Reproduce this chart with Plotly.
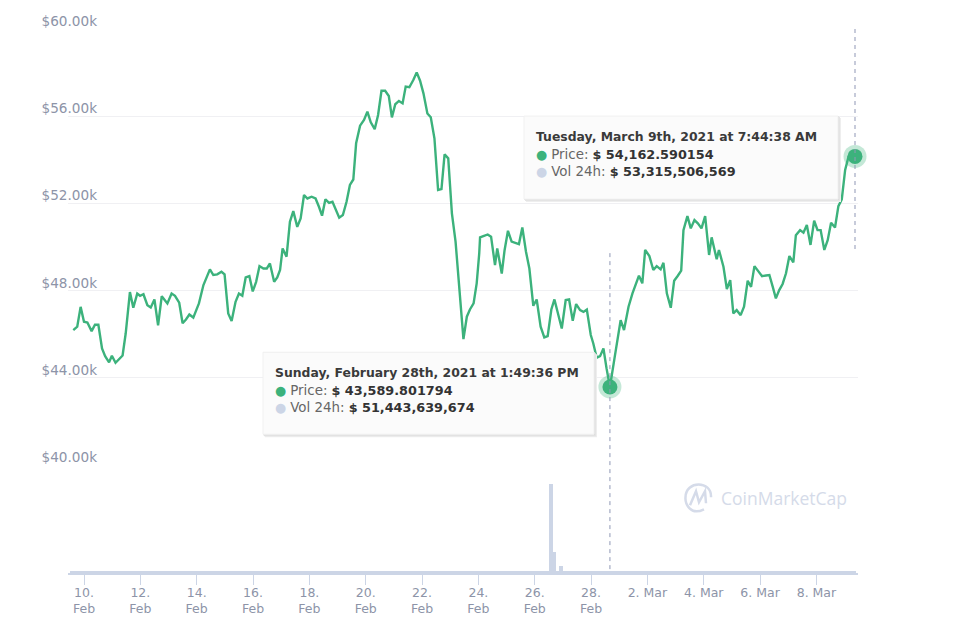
#!/usr/bin/env python3
# Bitcoin price / 24h volume chart, 30 days
import pandas as pd
import plotly.graph_objects as go

# -------------------------------------------------------------------------- #
# DATA  (days counted from 10 Feb 2021, price in thousands of dollars)
# -------------------------------------------------------------------------- #
price_days = [
    -0.38, -0.24, -0.12, 0.00, 0.12, 0.27, 0.39, 0.51, 0.64, 0.75, 0.89, 0.99, 1.12, 1.25, 1.37, 1.48,
    1.63, 1.75, 1.89, 1.99, 2.11, 2.25, 2.37, 2.50, 2.63, 2.76, 2.86, 2.96, 3.11, 3.23, 3.38, 3.50,
    3.62, 3.74, 3.88, 3.98, 4.08, 4.24, 4.36, 4.47, 4.59, 4.73, 4.88, 4.99, 5.12, 5.24, 5.38, 5.50,
    5.62, 5.74, 5.87, 5.99, 6.11, 6.23, 6.37, 6.49, 6.60, 6.75, 6.86, 6.96, 7.05, 7.19, 7.31, 7.43,
    7.57, 7.69, 7.81, 7.93, 8.08, 8.22, 8.34, 8.45, 8.57, 8.70, 8.82, 8.93, 9.06, 9.19, 9.32, 9.44,
    9.56, 9.66, 9.80, 9.94, 10.06, 10.18, 10.32, 10.44, 10.56, 10.69, 10.82, 10.93, 11.05, 11.18, 11.31, 11.42,
    11.55, 11.69, 11.81, 11.93, 12.05, 12.19, 12.31, 12.44, 12.57, 12.69, 12.80, 12.93, 13.06, 13.19, 13.30, 13.47,
    13.59, 13.70, 13.83, 13.94, 14.03, 14.06, 14.20, 14.33, 14.45, 14.59, 14.67, 14.83, 14.93, 15.05, 15.18, 15.32,
    15.44, 15.56, 15.69, 15.81, 15.95, 16.07, 16.21, 16.34, 16.46, 16.59, 16.70, 16.83, 16.96, 17.10, 17.22, 17.35,
    17.47, 17.61, 17.73, 17.85, 17.99, 18.08, 18.20, 18.32, 18.44, 18.55, 18.67, 18.85, 19.05, 19.17, 19.33, 19.47,
    19.60, 19.70, 19.82, 19.92, 20.07, 20.21, 20.33, 20.47, 20.57, 20.69, 20.83, 20.95, 21.08, 21.20, 21.28, 21.42,
    21.54, 21.67, 21.79, 21.92, 22.05, 22.19, 22.28, 22.46, 22.54, 22.70, 22.82, 22.94, 23.05, 23.17, 23.31, 23.43,
    23.56, 23.68, 23.80, 23.94, 24.07, 24.21, 24.33, 24.45, 24.56, 24.68, 24.80, 24.92, 25.04, 25.18, 25.27, 25.42,
    25.54, 25.66, 25.79, 25.92, 26.04, 26.15, 26.28, 26.40, 26.52, 26.66, 26.78, 26.90, 27.02, 27.14, 27.37,
]
prices = [
    46.19, 46.35, 47.26, 46.58, 46.54, 46.15, 46.44, 46.44, 45.35, 45.00, 44.72, 45.02, 44.70, 44.85, 45.03, 46.04,
    47.94, 47.22, 47.87, 47.77, 47.84, 47.34, 47.23, 47.60, 46.41, 47.75, 47.58, 47.42, 47.87, 47.77, 47.45, 46.51,
    46.68, 46.91, 46.77, 47.06, 47.42, 48.26, 48.61, 48.98, 48.72, 48.75, 48.87, 48.75, 46.96, 46.61, 47.49, 47.87,
    47.77, 48.61, 48.67, 47.97, 48.41, 49.13, 49.02, 49.02, 49.25, 48.41, 48.61, 48.95, 49.94, 49.56, 51.16, 51.65,
    50.93, 51.31, 52.39, 52.23, 52.31, 52.23, 51.85, 51.44, 52.19, 52.03, 52.08, 51.73, 51.35, 51.47, 52.08, 52.85,
    53.10, 54.76, 55.57, 55.83, 56.21, 55.72, 55.41, 56.06, 57.17, 57.17, 56.93, 55.95, 56.55, 56.70, 56.59, 57.36,
    57.33, 57.66, 58.01, 57.63, 57.05, 56.13, 55.95, 54.99, 52.62, 52.66, 54.25, 54.07, 51.55, 50.25, 48.64, 45.78,
    46.81, 47.14, 47.42, 48.34, 49.71, 50.45, 50.52, 50.58, 50.48, 49.18, 49.94, 48.79, 49.86, 50.75, 50.25, 50.20,
    50.14, 50.90, 49.79, 49.02, 47.31, 47.60, 46.35, 45.86, 45.92, 47.14, 47.60, 46.93, 46.27, 47.57, 47.60, 46.62,
    47.39, 47.11, 47.03, 47.14, 45.97, 45.58, 44.93, 45.00, 45.35, 44.44, 43.59, 45.05, 46.65, 46.20, 47.27, 47.88,
    48.34, 48.69, 48.34, 49.87, 49.59, 48.95, 49.13, 48.98, 49.28, 47.88, 47.22, 48.46, 48.69, 48.92, 50.78, 51.42,
    50.86, 51.24, 51.09, 50.86, 51.42, 49.64, 50.45, 49.44, 49.87, 49.10, 48.08, 48.49, 46.96, 47.11, 46.88, 47.27,
    48.46, 48.18, 49.13, 48.87, 48.67, 48.70, 48.72, 48.18, 47.65, 48.03, 48.31, 48.80, 49.59, 49.30, 50.55, 50.78,
    50.66, 51.01, 50.10, 51.21, 50.78, 50.78, 49.87, 50.32, 51.12, 50.90, 51.88, 52.19, 53.54, 54.15, 54.16,
]

# 24h volume in billions of dollars, one bar every 3 hours
volume_start = -0.43
volume_step = 0.125
volumes = [
    65, 65, 65, 65, 65, 65, 65, 65,
    65, 65, 65, 65, 65, 65, 65, 65,
    65, 65, 65, 65, 65, 65, 65, 65,
    65, 65, 65, 65, 25, 25, 25, 25,
    25, 25, 25, 25, 25, 25, 65, 65,
    65, 65, 25, 25, 25, 65, 65, 65,
    65, 65, 25, 65, 65, 25, 25, 25,
    65, 65, 25, 65, 65, 65, 65, 65,
    65, 65, 65, 65, 65, 65, 65, 65,
    25, 25, 25, 25, 25, 25, 25, 25,
    25, 25, 25, 25, 25, 25, 25, 25,
    25, 25, 25, 25, 25, 25, 25, 25,
    25, 25, 25, 25, 25, 25, 25, 25,
    25, 65, 65, 65, 65, 65, 65, 65,
    65, 65, 65, 65, 65, 65, 65, 65,
    65, 25, 25, 25, 25, 25, 25, 25,
    25, 25, 25, 25, 25, 25, 25, 25,
    2660, 630, 25, 210, 25, 25, 25, 25,
    25, 25, 25, 25, 25, 25, 25, 25,
    25, 25, 25, 25, 25, 25, 25, 25,
    25, 25, 25, 25, 25, 25, 25, 25,
    25, 25, 25, 25, 25, 25, 25, 25,
    25, 25, 25, 25, 25, 25, 25, 25,
    25, 25, 25, 25, 25, 25, 25, 25,
    25, 25, 25, 25, 25, 25, 25, 25,
    25, 25, 25, 25, 25, 25, 25, 25,
    25, 25, 25, 25, 25, 25, 25, 25,
    25, 25, 25, 25, 25, 25, 25,
]

tick_days = [0, 2, 4, 6, 8, 10, 12, 14, 16, 18, 20, 22, 24, 26]
tick_labels = ["10.<br>Feb", "12.<br>Feb", "14.<br>Feb", "16.<br>Feb", "18.<br>Feb", "20.<br>Feb", "22.<br>Feb",
               "24.<br>Feb", "26.<br>Feb", "28.<br>Feb", "2. Mar", "4. Mar", "6. Mar", "8. Mar"]
price_ticks = [40, 44, 48, 52, 56, 60]
price_labels = ["$40.00k", "$44.00k", "$48.00k", "$52.00k", "$56.00k", "$60.00k"]

hover_days = [18.67, 27.37]
hover_prices = [43.59, 54.16]

tooltip_titles = ["Sunday, February 28th, 2021 at 1:49:36 PM", "Tuesday, March 9th, 2021 at 7:44:38 AM"]
tooltip_prices = ["$ 43,589.801794", "$ 54,162.590154"]
tooltip_volumes = ["$ 51,443,639,674", "$ 53,315,506,569"]

GREEN = "#3cb27c"
BAR = "#ccd5e6"
TICK_TEXT = "#8d94a8"
GRID = "#f0f0f3"
FONT = "DejaVu Sans"

W, H = 965, 625
LEFT, RIGHT, TOP, BOTTOM = 68, 858, 29, 572.7


def to_date(days):
    return pd.Timestamp("2021-02-10") + pd.to_timedelta(days, unit="D")


def px(x):
    return (x - LEFT) / (RIGHT - LEFT)


def py(y):
    return (BOTTOM - y) / (BOTTOM - TOP)


volume_days = [volume_start + volume_step * i for i in range(len(volumes))]

fig = go.Figure()

fig.add_trace(go.Bar(x=to_date(pd.Series(volume_days)), y=volumes, yaxis="y2",
                     marker=dict(color=BAR, line=dict(width=0)),
                     width=0.14 * 86400000))
fig.add_trace(go.Scatter(x=to_date(pd.Series(price_days)), y=prices, mode="lines",
                         line=dict(color=GREEN, width=2.4)))
fig.add_trace(go.Scatter(x=to_date(pd.Series(hover_days)), y=hover_prices, mode="markers", cliponaxis=False,
                         marker=dict(color=GREEN, size=23, opacity=0.3, line=dict(width=0))))
fig.add_trace(go.Scatter(x=to_date(pd.Series(hover_days)), y=hover_prices, mode="markers", cliponaxis=False,
                         marker=dict(color=GREEN, size=15, line=dict(width=0))))

# -------------------------------------------------------------------------- #
# crosshairs, tooltips, watermark
# -------------------------------------------------------------------------- #
shapes = []
crosshair = dict(color="#8f97b5", width=1, dash="4px,4px")
shapes.append(dict(type="line", xref="x", yref="paper", x0=to_date(hover_days[0]), x1=to_date(hover_days[0]),
                   y0=py(253), y1=py(572), line=crosshair))
shapes.append(dict(type="line", xref="x", yref="paper", x0=to_date(hover_days[1]), x1=to_date(hover_days[1]),
                   y0=py(29), y1=py(252), line=crosshair))

boxes = [(263, 352, 594, 434), (524, 116, 838, 199)]
annotations = []


def label(x, y, text, size=12.4, color="#333333", family=FONT):
    annotations.append(dict(xref="paper", yref="paper", x=px(x), y=py(y), text=text, showarrow=False,
                            xanchor="left", yanchor="middle", align="left",
                            font=dict(family=family, size=size, color=color)))


for i, (x0, y0, x1, y1) in enumerate(boxes):
    # soft shadow, then the box
    for off, col in [(3, "#eeeeee"), (2, "#e4e4e4"), (1, "#dcdcdc")]:
        shapes.append(dict(type="rect", xref="paper", yref="paper", x0=px(x0 + off - 1), x1=px(x1 + off),
                           y0=py(y0 + off - 1), y1=py(y1 + off), fillcolor=col, line=dict(width=0), layer="above"))
    shapes.append(dict(type="rect", xref="paper", yref="paper", x0=px(x0), x1=px(x1), y0=py(y0), y1=py(y1),
                       fillcolor="#fbfbfb", line=dict(color="#f1f1f1", width=1), layer="above"))
    tx = x0 + 10
    ty = y0 + 20
    label(tx, ty, "<b>" + tooltip_titles[i] + "</b>", color="#3a3a3a")
    label(tx, ty + 18, '<span style="color:%s">●</span> <span style="color:#666666;font-size:13.4px">Price:</span> <b>%s</b>'
          % (GREEN, tooltip_prices[i]), size=12.8)
    label(tx, ty + 35.5, '<span style="color:%s">●</span> <span style="color:#666666;font-size:13.4px">Vol 24h:</span> <b>%s</b>'
          % (BAR, tooltip_volumes[i]), size=12.8)

# CoinMarketCap logo
shapes.append(dict(type="path", xref="paper", yref="paper", layer="below",
                   path="M %f %f C %f %f %f %f %f %f C %f %f %f %f %f %f" % (
                       px(704), py(509), px(690), py(516), px(685), py(503), px(685.5), py(497),
                       px(685.5), py(480), px(712), py(480), px(711), py(497)),
                   line=dict(color="#d5dbe9", width=2.5)))
shapes.append(dict(type="path", xref="paper", yref="paper", layer="below",
                   path="M %f %f L %f %f L %f %f L %f %f L %f %f" % (
                       px(690), py(505), px(696), py(491), px(699), py(502), px(705), py(491), px(706), py(503)),
                   line=dict(color="#d5dbe9", width=2.5)))
label(719, 498, "CoinMarketCap", size=17.5, color="#d5dbe9", family="Open Sans")

fig.update_layout(
    width=W, height=H, showlegend=False, plot_bgcolor="white", paper_bgcolor="white",
    margin=dict(l=LEFT, r=W - RIGHT, t=TOP, b=H - BOTTOM, pad=0),
    barmode="overlay", bargap=0, shapes=shapes, annotations=annotations,
    font=dict(family=FONT),
    xaxis=dict(anchor="y2", automargin=False,
               range=[to_date((LEFT - 84) / 28.17), to_date((RIGHT - 84) / 28.17)], type="date",
               tickmode="array", tickvals=[to_date(d) for d in tick_days], ticktext=tick_labels,
               ticks="outside", ticklen=10, tickcolor=BAR, tickwidth=1,
               showgrid=False, showline=True, linecolor=BAR, linewidth=2, zeroline=False,
               ticklabelstandoff=-3,
               tickfont=dict(family=FONT, size=12.5, color=TICK_TEXT), tickangle=0),
    yaxis=dict(domain=[py(465), 1], automargin=False, range=[40, 60],
               tickmode="array", tickvals=price_ticks, ticktext=price_labels,
               showgrid=True, gridcolor=GRID, gridwidth=1, zeroline=False, showline=False, ticks="",
               ticklabelstandoff=-30, ticklabelshift=-8,
               tickfont=dict(family=FONT, size=13.6, color=TICK_TEXT)),
    yaxis2=dict(domain=[0, py(465)], automargin=False, range=[0, 3230], showgrid=False, zeroline=False,
                showticklabels=False, ticks=""),
)

fig.write_html("out.html", config=dict(displayModeBar=False),
               post_script="document.body.style.margin='0';")
